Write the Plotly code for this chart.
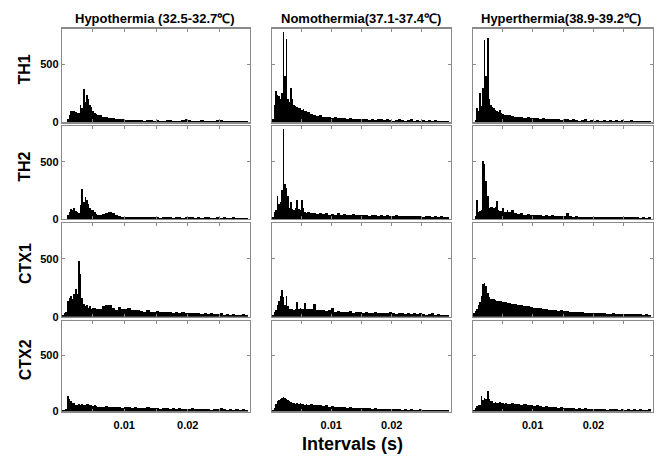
import numpy as np
import plotly.graph_objects as go

# ---------------- data ----------------
# fine bins (0.25 ms) from 0 to 6 ms, then coarse bins (0.5 ms) from 6 ms to 29.5 ms
FINE_START, FINE_WIDTH, N_FINE = 0.0, 0.00025, 24
COARSE_START, COARSE_WIDTH, N_COARSE = 0.006, 0.0005, 47

col_titles = ["Hypothermia (32.5-32.7℃)", "Nomothermia(37.1-37.4℃)", "Hyperthermia(38.9-39.2℃)"]
row_labels = ["TH1", "TH2", "CTX1", "CTX2"]

# ---- Hypothermia ----
hypo_th1_head = [0, 0, 0, 0, 30, 60, 100, 95, 100, 90, 85, 80, 150, 120, 290, 180, 240, 200, 150, 130, 100, 80, 70, 60]
hypo_th1_tail = [60, 45, 50, 40, 35, 30, 30, 25,
                 20, 18, 22, 20, 18, 20, 15, 18, 20, 15, 18, 12, 15, 20, 18, 15, 12, 15, 20, 25,
                 18, 15, 12, 15, 18, 15, 12, 10, 15, 18, 20, 15, 12, 10, 12, 15, 10, 12, 10]
hypo_th2_head = [0, 0, 0, 0, 40, 60, 90, 80, 95, 70, 60, 50, 120, 265, 150, 190, 170, 130, 100, 80, 80, 60, 45, 40]
hypo_th2_tail = [40, 45, 55, 60, 50, 40, 25, 20,
                 20, 18, 15, 20, 18, 15, 18, 20, 15, 18, 15, 12, 15, 18, 15, 12, 15, 18, 12, 15,
                 18, 15, 12, 15, 12, 18, 15, 12, 10, 15, 12, 15, 10, 12, 15, 10, 12, 10, 12]
hypo_ctx1_head = [0, 20, 30, 45, 140, 160, 180, 150, 200, 240, 200, 480, 370, 160, 110, 90, 100, 80, 95, 70, 75, 80, 70, 65]
hypo_ctx1_tail = [70, 95, 105, 100, 75, 60, 85, 65,
                  70, 75, 60, 55, 60, 50, 45, 55, 45, 40, 50, 45, 40, 40, 45, 35, 40, 35, 40, 30,
                  35, 30, 35, 30, 25, 30, 25, 30, 25, 25, 30, 20, 25, 20, 25, 20, 20, 25, 20]
hypo_ctx2_head = [5, 10, 15, 20, 140, 110, 90, 80, 75, 60, 55, 65, 60, 70, 55, 60, 65, 70, 60, 55, 50, 55, 50, 45]
hypo_ctx2_tail = [45, 40, 50, 45, 40, 45, 40, 35,
                  45, 40, 35, 40, 35, 30, 35, 40, 30, 35, 30, 25, 30, 35, 25, 30, 25, 30, 25, 20,
                  25, 30, 20, 25, 20, 25, 20, 15, 25, 20, 30, 20, 15, 20, 15, 20, 15, 20, 15]

# ---- Nomothermia ----
nomo_th1_head = [0, 30, 150, 275, 240, 230, 200, 250, 780, 400, 720, 200, 180, 300, 200, 150, 140, 130, 120, 125, 110, 115, 100, 95]
nomo_th1_tail = [90, 70, 65, 55, 60, 50, 45, 50,
                 40, 45, 35, 40, 35, 30, 35, 30, 25, 30, 25, 30, 20, 25, 20, 25, 30, 20, 25, 20,
                 15, 20, 25, 20, 15, 20, 25, 15, 20, 15, 20, 15, 20, 15, 20, 15, 12, 15, 12]
nomo_th2_head = [0, 20, 60, 80, 200, 130, 150, 250, 790, 310, 270, 200, 100, 150, 90, 80, 100, 170, 90, 80, 170, 100, 60, 55]
nomo_th2_tail = [60, 50, 55, 45, 50, 45, 50, 40,
                 45, 40, 50, 40, 45, 35, 40, 45, 35, 40, 35, 40, 30, 35, 40, 30, 35, 30, 35, 30,
                 25, 35, 30, 25, 30, 25, 30, 25, 30, 25, 20, 25, 30, 20, 25, 20, 25, 20, 20]
nomo_ctx1_head = [10, 20, 40, 60, 100, 140, 180, 235, 170, 100, 180, 90, 70, 65, 70, 60, 65, 130, 70, 75, 70, 65, 120, 70]
nomo_ctx1_tail = [70, 65, 110, 60, 55, 60, 50, 55,
                  80, 45, 50, 40, 45, 40, 50, 35, 40, 45, 35, 40, 35, 30, 40, 35, 30, 35, 30, 40,
                  30, 25, 30, 35, 25, 30, 25, 30, 25, 30, 25, 20, 25, 30, 20, 25, 20, 20, 15]
nomo_ctx2_head = [0, 10, 30, 70, 90, 100, 110, 120, 130, 125, 115, 100, 90, 85, 80, 75, 70, 80, 70, 75, 65, 70, 60, 65]
nomo_ctx2_tail = [60, 65, 60, 55, 60, 50, 55, 45,
                  50, 45, 40, 45, 40, 35, 40, 35, 30, 35, 30, 35, 30, 25, 30, 25, 20, 25, 20, 25,
                  20, 20, 25, 15, 20, 15, 20, 15, 15, 20, 15, 15, 12, 15, 12, 15, 12, 15, 12]

# ---- Hyperthermia ----
hyper_th1_head = [0, 0, 20, 120, 100, 255, 140, 300, 710, 400, 725, 200, 150, 130, 120, 110, 100, 90, 110, 80, 70, 65, 60, 65]
hyper_th1_tail = [60, 55, 50, 45, 50, 40, 45, 35,
                  40, 35, 30, 35, 30, 25, 30, 25, 30, 20, 25, 30, 20, 25, 20, 15, 20, 25, 15, 20,
                  15, 20, 15, 20, 15, 20, 15, 20, 15, 20, 15, 15, 20, 15, 12, 15, 12, 15, 12]
hyper_th2_head = [0, 0, 30, 170, 60, 70, 80, 510, 480, 330, 200, 100, 105, 110, 100, 105, 160, 80, 75, 70, 100, 65, 60, 80]
hyper_th2_tail = [60, 80, 50, 45, 50, 40, 45, 40,
                  35, 40, 35, 30, 35, 30, 35, 30, 25, 30, 25, 55, 25, 20, 25, 20, 15, 20, 15, 20,
                  15, 20, 15, 15, 20, 15, 15, 20, 15, 15, 20, 15, 15, 20, 15, 12, 15, 12, 15]
hyper_ctx1_head = [10, 30, 50, 70, 100, 130, 180, 280, 290, 270, 210, 170, 155, 150, 150, 145, 140, 140, 135, 135, 130, 125, 125, 120]
hyper_ctx1_tail = [120, 115, 110, 105, 100, 95, 90, 85,
                   80, 75, 72, 68, 65, 62, 58, 55, 52, 55, 50, 48, 45, 42, 40, 42, 38, 36, 35, 33,
                   32, 34, 30, 30, 28, 27, 29, 26, 25, 24, 26, 23, 22, 24, 21, 22, 20, 21, 20]
hyper_ctx2_head = [0, 10, 30, 50, 60, 60, 140, 100, 120, 110, 185, 110, 95, 90, 80, 85, 75, 80, 85, 75, 80, 70, 75, 70]
hyper_ctx2_tail = [70, 75, 65, 70, 60, 65, 55, 60,
                   50, 55, 50, 45, 50, 40, 45, 40, 35, 40, 35, 30, 35, 30, 25, 30, 25, 30, 25, 20,
                   25, 20, 25, 20, 15, 20, 25, 20, 15, 20, 15, 20, 15, 20, 15, 20, 15, 15, 20]

grid = [
    [(hypo_th1_head, hypo_th1_tail), (nomo_th1_head, nomo_th1_tail), (hyper_th1_head, hyper_th1_tail)],
    [(hypo_th2_head, hypo_th2_tail), (nomo_th2_head, nomo_th2_tail), (hyper_th2_head, hyper_th2_tail)],
    [(hypo_ctx1_head, hypo_ctx1_tail), (nomo_ctx1_head, nomo_ctx1_tail), (hyper_ctx1_head, hyper_ctx1_tail)],
    [(hypo_ctx2_head, hypo_ctx2_tail), (nomo_ctx2_head, nomo_ctx2_tail), (hyper_ctx2_head, hyper_ctx2_tail)],
]

x_ticks = [0.005, 0.01, 0.015, 0.02, 0.025]
x_ticktext = ["", "0.01", "", "0.02", ""]
y_ticks = [0, 500]
y_ticktext = ["0", "500"]

# ---------------- layout ----------------
W, H = 657, 462
col_px = [(62, 250), (272, 451), (473, 653)]
row_px = [(29, 124), (128, 222), (226, 321), (325, 417)]

fine_centers = FINE_START + FINE_WIDTH * (np.arange(N_FINE) + 0.5)
coarse_centers = COARSE_START + COARSE_WIDTH * (np.arange(N_COARSE) + 0.5)
centers = np.concatenate([fine_centers, coarse_centers])
widths = np.concatenate([np.full(N_FINE, FINE_WIDTH), np.full(N_COARSE, COARSE_WIDTH)])

fig = go.Figure()
FONT = "Liberation Sans, Arial, sans-serif"
GRAY = "#8a8a8a"

layout = {}
k = 0
for r in range(4):
    for c in range(3):
        k += 1
        xa = "xaxis" if k == 1 else f"xaxis{k}"
        ya = "yaxis" if k == 1 else f"yaxis{k}"
        xref = "x" if k == 1 else f"x{k}"
        yref = "y" if k == 1 else f"y{k}"
        head, tail = grid[r][c]
        fig.add_trace(go.Bar(x=centers, y=list(head) + list(tail), width=widths,
                             marker=dict(color="black", line=dict(width=0)),
                             xaxis=xref, yaxis=yref, showlegend=False,
                             hoverinfo="skip"))
        x0, x1 = col_px[c]
        y0, y1 = row_px[r]
        layout[xa] = dict(domain=[x0 / W, x1 / W], anchor=yref,
                          range=[0.0002, 0.0298], tickvals=x_ticks,
                          ticktext=x_ticktext if r == 3 else [""] * 5,
                          ticks="inside", ticklen=3, tickcolor=GRAY,
                          showline=True, linecolor=GRAY, linewidth=1.2, mirror="ticks",
                          showgrid=False, zeroline=False, fixedrange=True,
                          ticklabelstandoff=3,
                          tickfont=dict(family=FONT, size=11, color="black", weight="bold"))
        layout[ya] = dict(domain=[1 - y1 / H, 1 - y0 / H], anchor=xref,
                          range=[0, 810], tickvals=y_ticks,
                          ticktext=y_ticktext if c == 0 else ["", ""],
                          ticks="inside", ticklen=3, tickcolor=GRAY,
                          showline=True, linecolor=GRAY, linewidth=1.2, mirror="ticks",
                          showgrid=False, zeroline=False, fixedrange=True,
                          tickfont=dict(family=FONT, size=11, color="black", weight="bold"))

annotations = []
title_x = [155, 361, 561]
for c in range(3):
    annotations.append(dict(text=col_titles[c], x=title_x[c] / W, y=1 - 19 / H,
                            xref="paper", yref="paper", showarrow=False,
                            xanchor="center", yanchor="middle",
                            font=dict(family=FONT, size=13, color="black", weight="bold")))
for r in range(4):
    yc = (row_px[r][0] + row_px[r][1]) / 2 - 6
    annotations.append(dict(text=row_labels[r], x=25 / W, y=1 - yc / H,
                            xref="paper", yref="paper", showarrow=False, textangle=-90,
                            xanchor="center", yanchor="middle",
                            font=dict(family=FONT, size=16, color="black", weight="bold")))
annotations.append(dict(text="Intervals (s)", x=352 / W, y=1 - 450 / H,
                        xref="paper", yref="paper", showarrow=False,
                        xanchor="center", yanchor="middle",
                        font=dict(family=FONT, size=18, color="black", weight="bold")))

fig.update_layout(width=W, height=H, margin=dict(l=0, r=0, t=0, b=0),
                  paper_bgcolor="white", plot_bgcolor="white",
                  bargap=0, annotations=annotations, **layout)

fig.write_html("out.html", config={"displayModeBar": False, "staticPlot": True},
               post_script="document.body.style.margin='0px';")
